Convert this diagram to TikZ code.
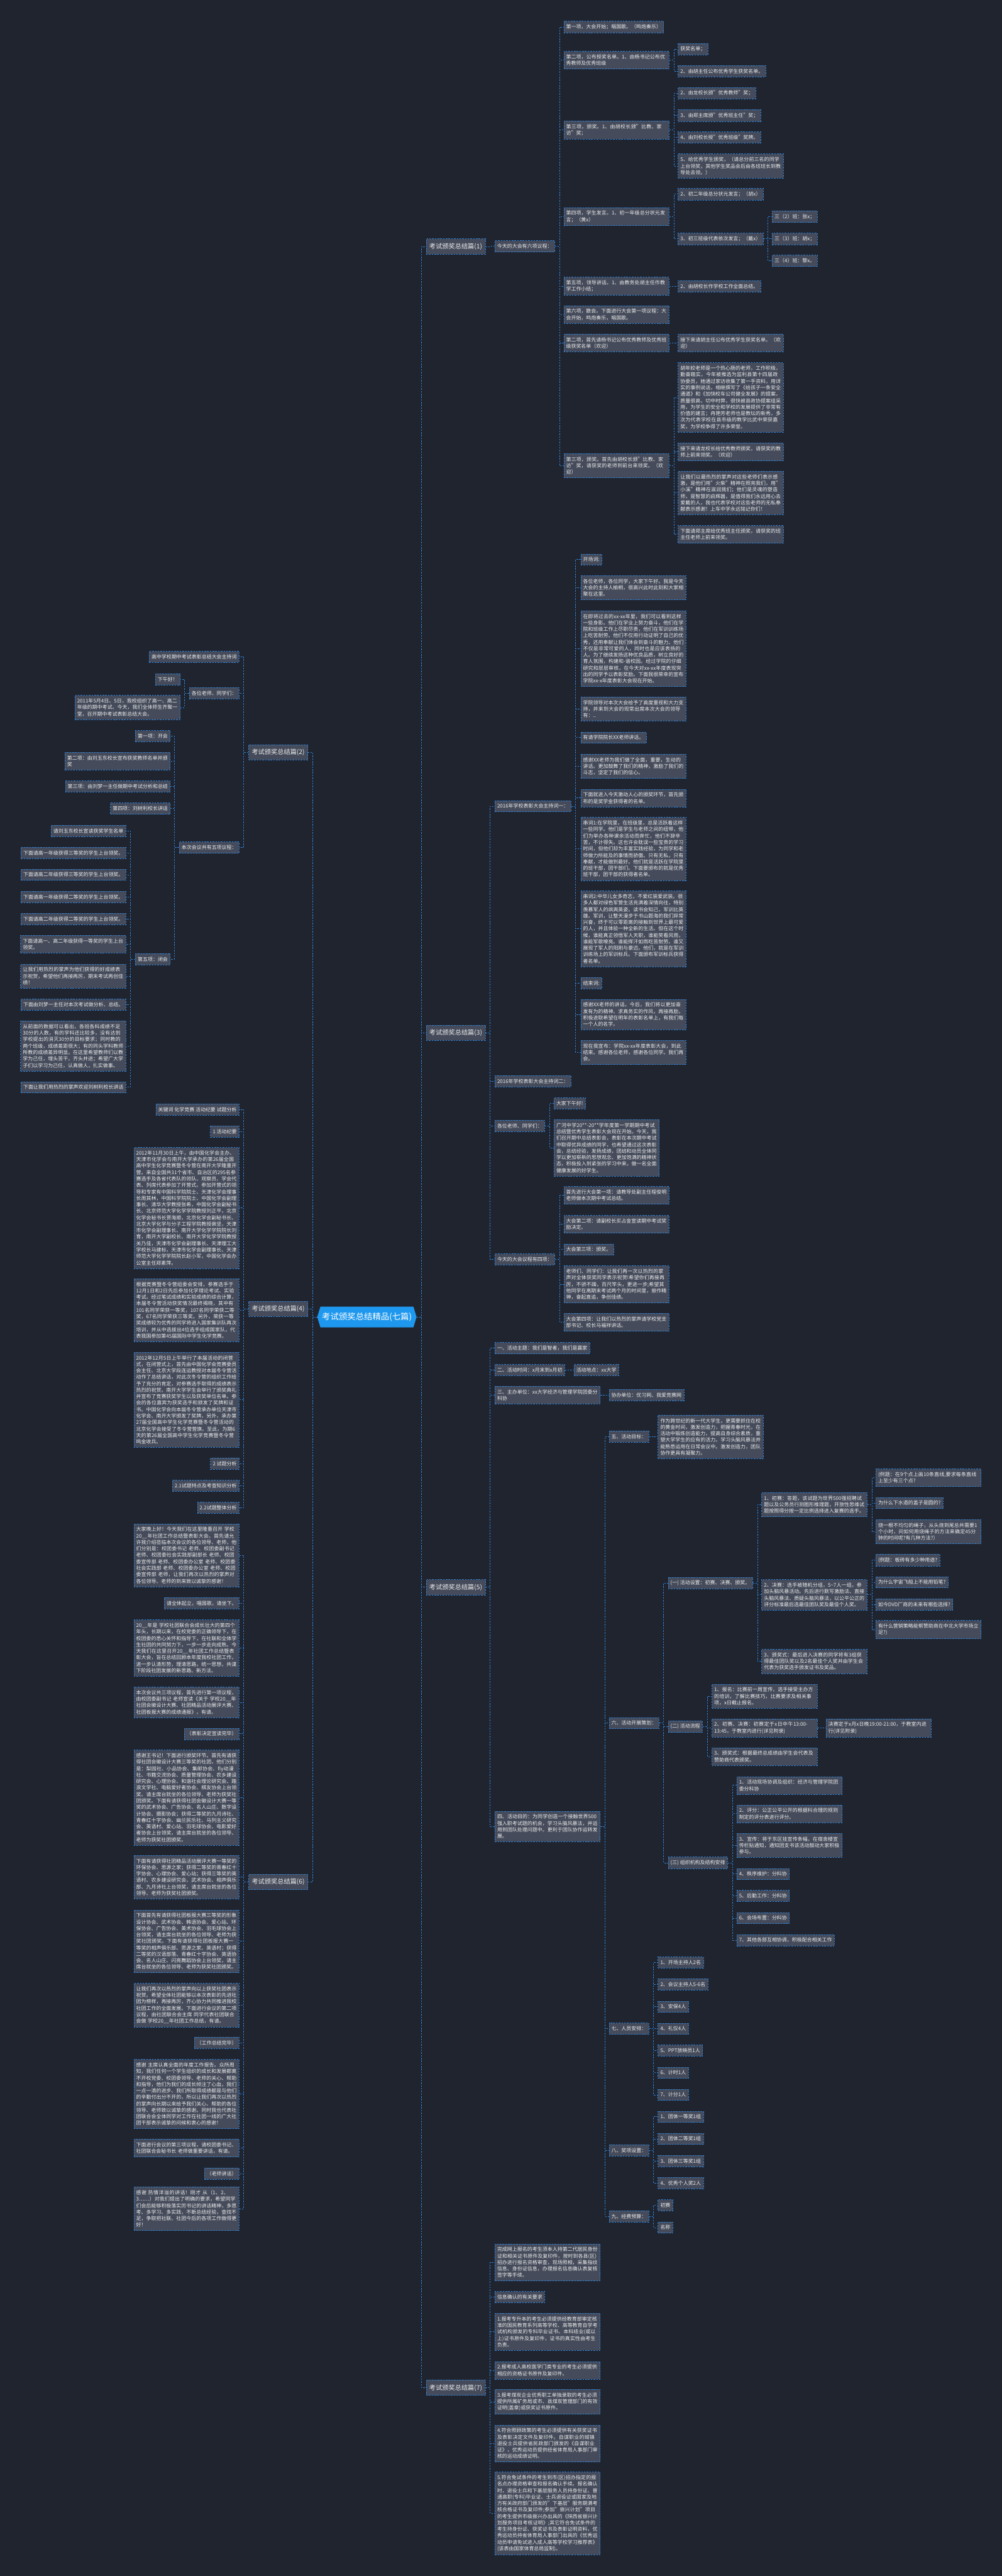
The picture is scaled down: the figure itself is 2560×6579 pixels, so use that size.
\documentclass[tikz,border=0pt]{standalone}
\usepackage{fontspec}
\setmainfont{Noto Sans CJK SC}
\usetikzlibrary{shapes.symbols}
\XeTeXlinebreaklocale "zh"
\XeTeXlinebreakskip=0pt plus 1pt

\definecolor{bgdark}{HTML}{20242F}
\definecolor{boxgray}{HTML}{454B5A}
\definecolor{boxtext}{HTML}{EDEDED}
\definecolor{linkblue}{HTML}{2C82D8}
\definecolor{rootblue}{HTML}{1E98EE}

\tikzset{
  rootnode/.style={shape=signal, signal to=west and east, signal pointer angle=146,
    fill=rootblue, text=white, font=\fontsize{21.5}{24}\selectfont,
    minimum height=53pt, inner xsep=4pt, inner ysep=0pt},
  box/.style={draw=linkblue, dash pattern=on 4pt off 3pt, line width=1pt,
    fill=boxgray, text=boxtext},
  branch/.style={box, font=\fontsize{16.4}{20}\selectfont, inner xsep=8pt,
    inner ysep=11pt, text height=14pt, text depth=3pt},
  leaf/.style={box, font=\fontsize{12.8}{16.5}\selectfont, inner xsep=6pt,
    inner ysep=8.3pt, align=left},
  para/.style={leaf, text width=257pt},
  rleaf/.style={leaf, anchor=west}, rpara/.style={para, anchor=west},
  lleaf/.style={leaf, anchor=east}, lpara/.style={para, anchor=east},
  link/.style={draw=linkblue, dash pattern=on 4pt off 3pt, line width=1.2pt}
}
\newcommand{\linkR}[2]{\draw[link] (#1.east) -- ++(12,0) |- (#2.west);}
\newcommand{\linkL}[2]{\draw[link] (#1.west) -- ++(-12,0) |- (#2.east);}

\begin{document}
\begin{tikzpicture}[x=1pt, y=-1pt]
\fill[bgdark] (0,0) rectangle (2560,6579);
\useasboundingbox (0,0) rectangle (2560,6579);

\node[rootnode] (root) at (937.5,3363.5) {考试颁奖总结精品(七篇)};

% the seven branches
\node[branch, anchor=west] (p1) at (1088.5,629.5) {考试颁奖总结篇(1)};
\node[branch, anchor=east] (p2) at (786.8,1921) {考试颁奖总结篇(2)};
\node[branch, anchor=west] (p3) at (1088.5,2637.5) {考试颁奖总结篇(3)};
\node[branch, anchor=east] (p4) at (786.8,3343) {考试颁奖总结篇(4)};
\node[branch, anchor=west] (p5) at (1088.5,4053.6) {考试颁奖总结篇(5)};
\node[branch, anchor=east] (p6) at (786.8,4806.6) {考试颁奖总结篇(6)};
\node[branch, anchor=west] (p7) at (1088.5,6098) {考试颁奖总结篇(7)};
\foreach \b in {p1,p3,p5,p7} {\linkR{root}{\b}}
\foreach \b in {p2,p4,p6} {\linkL{root}{\b}}

% ---- 篇1
\node[rleaf] (p1a) at (1263.8,629) {今天的大会有六项议程：};
\node[rleaf] (p1a1) at (1440,69) {第一项，大会开始；唱国歌。（鸣炮奏乐）};
\node[rpara] (p1a2) at (1440,153.5) {第二项，公布授奖名单。1、由杨书记公布优秀教师及优秀班级};
\node[rleaf] (p1a2a) at (1732,125.5) {获奖名单；};
\node[rleaf] (p1a2b) at (1732,182) {2、由胡主任公布优秀学生获奖名单。};
\node[rpara] (p1a3) at (1440,332) {第三项，颁奖。1、由胡校长颁"比教、家访"奖；};
\node[rleaf] (p1a3a) at (1732,238) {2、由龙校长颁"优秀教师"奖；};
\node[rleaf] (p1a3b) at (1732,295) {3、由郑主席颁"优秀班主任"奖；};
\node[rleaf] (p1a3c) at (1732,351) {4、由刘校长授"优秀班级"奖牌。};
\node[rpara] (p1a3d) at (1732,424) {5、给优秀学生颁奖，（请总分前三名的同学上台领奖，其他学生奖品会后由各班班长到教导处去领。）};
\node[rpara] (p1a4) at (1440,553) {第四项，学生发言。1、初一年级总分状元发言；（黄x）};
\node[rleaf] (p1a4a) at (1732,496) {2、初二年级总分状元发言；（胡x）};
\node[rleaf] (p1a4b) at (1732,610) {3、初三班级代表依次发言；（戴x）};
\node[rleaf] (p1a4b1) at (1972.6,553) {三（2）班：张x；};
\node[rleaf] (p1a4b2) at (1972.6,610) {三（3）班：胡x；};
\node[rleaf] (p1a4b3) at (1972.6,666) {三（4）班：黎x。};
\node[rpara] (p1a5) at (1440,731) {第五项，领导讲话。1、由教务处胡主任作教学工作小结；};
\node[rleaf] (p1a5a) at (1732,731) {2、由胡校长作学校工作全面总结。};
\node[rpara] (p1a6) at (1440,803) {第六项，散会。下面进行大会第一项议程：大会开始，鸣炮奏乐，唱国歌。};
\node[rpara] (p1a7) at (1440,876) {第二项，首先请杨书记公布优秀教师及优秀班级获奖名单（欢迎）};
\node[rpara] (p1a7a) at (1732,876) {接下来请胡主任公布优秀学生获奖名单。（欢迎）};
\node[rpara] (p1a8) at (1440,1189.5) {第三项，颁奖。首先由胡校长颁"比教、家访"奖，请获奖的老师到前台来领奖。（欢迎）};
\node[rpara] (p1a8a) at (1732,1015) {胡年姣老师是一个热心肠的老师，工作积极，勤奋踏实，今年被推选为监利县第十四届政协委员，她通过家访收集了第一手资料，用详实的事例说话，相继撰写了《给孩子一条安全通道》和《加快校车公司健全发展》的提案，质量很高，切中时弊，很快被县政协提案组采用，为学生的安全和学校的发展提供了非常有价值的建言；冉艳芳老师也是教坛的新秀，多次为代表学校在县市级的教学比武中荣获嘉奖，为学校争得了许多荣誉。};
\node[rpara] (p1a8b) at (1732,1154) {接下来请龙校长给优秀教师颁奖，请获奖的教师上前来领奖。（欢迎）};
\node[rpara] (p1a8c) at (1732,1259) {让我们以最热烈的掌声对这些老师们表示感激，是他们用"火柴"精神在照亮我们，用"小溪"精神在滋润我们；他们是灵魂的塑造师，是智慧的启辉器，是值得我们永远用心去爱戴的人，我也代表学校对这些老师的无私奉献表示感谢！上车中学永远铭记你们！};
\node[rpara] (p1a8d) at (1732,1364.5) {下面请郑主席给优秀班主任颁奖，请获奖的班主任老师上前来领奖。};
\linkR{p1}{p1a}
\foreach \c in {p1a1,p1a2,p1a3,p1a4,p1a5,p1a6,p1a7,p1a8} {\linkR{p1a}{\c}}
\foreach \c in {p1a2a,p1a2b} {\linkR{p1a2}{\c}}
\foreach \c in {p1a3a,p1a3b,p1a3c,p1a3d} {\linkR{p1a3}{\c}}
\foreach \c in {p1a4a,p1a4b} {\linkR{p1a4}{\c}}
\foreach \c in {p1a4b1,p1a4b2,p1a4b3} {\linkR{p1a4b}{\c}}
\linkR{p1a5}{p1a5a}
\linkR{p1a7}{p1a7a}
\foreach \c in {p1a8a,p1a8b,p1a8c,p1a8d} {\linkR{p1a8}{\c}}

% ---- 篇3
\node[rleaf] (p3a) at (1264,2059) {2016年学校表彰大会主持词一：};
\node[rleaf] (p3a1) at (1483.4,1429) {开场词:};
\node[rpara] (p3a2) at (1483.4,1501) {各位老师，各位同学，大家下午好。我是今天大会的主持人榆桐，很高兴此时此刻和大家相聚在这里。};
\node[rpara] (p3a3) at (1483.4,1656.5) {在即将过去的xx-xx年里，我们可以看到这样一些身影。他们在学业上努力奋斗，他们在学院和班级工作上尽职尽责，他们在军训训练场上吃苦耐劳。他们不仅用行动证明了自己的优秀，还用奉献让我们体会到奋斗的魅力。他们不仅是非常可爱的人，同时也是应该表扬的人。为了继续发扬这种优良品质，树立良好的育人氛围，构建和-谐校园。经过学院的仔细研究和层层审核，在今天对xx-xx年度表现突出的同学予以表彰奖励。下面我很荣幸的宣布学院xx-x年度表彰大会现在开始。};
\node[rpara] (p3a4) at (1483.4,1810.7) {学院领导对本次大会给予了高度重视和大力支持，并来到大会的现常出席本次大会的领导有：..};
\node[rleaf] (p3a5) at (1483.4,1883.6) {有请学院院长XX老师讲话。};
\node[rpara] (p3a6) at (1483.4,1957) {感谢XX老师为我们做了全面，重要，生动的讲话。更加鼓舞了我们的精神，激励了我们的斗志，坚定了我们的信心。};
\node[rpara] (p3a7) at (1483.4,2038) {下面就进入今天激动人心的颁奖环节，首先颁布的是奖学金获得者的名单。};
\node[rpara] (p3a8) at (1483.4,2168) {串词1:在学院里，在班级里，总是活跃着这样一些同学。他们是学生与老师之间的纽带，他们为举办各种课余活动而奔忙，他们不辞辛苦，不计得失。这也许会耽误一些宝贵的学习时间，但他们却为丰富实践经验，为同学和老师做力所能及的事情而骄傲。只有无私，只有奉献，才能做到最好。他们就是活跃在学院里的班干部，团干部们。下面要颁布的就是优秀班干部，团干部的获得者名单。};
\node[rpara] (p3a9) at (1483.4,2372) {串词2:中华儿女多奇志，不爱红装爱武装。很多人都对绿色军营生活充满着深情向往，特别羡慕军人的飒爽英姿。读书会知己，军训比英雄。军训，让整天漫步于书山题海的我们异常兴奋，终于可以零距离的接触到世界上最可爱的人，并且体验一种全新的生活。但在这个时候，谁能真正领悟军人天职，谁能笑看风雨，谁能军歌嘹亮。谁能挥汗如雨吃苦耐劳。谁又展现了军人的阳刚与豪迈。他们，就是在军训训练场上的军训标兵。下面颁布军训标兵获得者名单。};
\node[rleaf] (p3a10) at (1483.4,2510.5) {结束词:};
\node[rpara] (p3a11) at (1483.4,2591) {感谢XX老师的讲话。今后，我们将以更加奋发有为的精神、求真务实的作风，再接再励，积极进取希望在明年的表彰名单上，有我们每一个人的名字。};
\node[rpara] (p3a12) at (1483.4,2688) {现在我宣布：学院xx-xx年度表彰大会，到此结束。感谢各位老师，感谢各位同学。我们再会。};
\node[rleaf] (p3b) at (1264,2761.5) {2016年学校表彰大会主持词二：};
\node[rleaf] (p3c) at (1264,2875) {各位老师、同学们：};
\node[rleaf] (p3c1) at (1415,2818) {大家下午好!};
\node[rpara] (p3c2) at (1415,2931.7) {广河中学20**-20**学年度第一学期期中考试总结暨优秀学生表彰大会现在开始。今天，我们召开期中总结表彰会，表彰在本次期中考试中取得优异成绩的同学，也希望通过这次表彰会，总结经验，发扬成绩，团结和动员全体同学以更加崭新的思想观念、更加饱满的精神状态，积极投入到紧张的学习中来，做一名全面健康发展的好学生。};
\node[rleaf] (p3d) at (1264,3216.5) {今天的大会议程有四项：};
\node[rpara] (p3d1) at (1440,3053) {首先进行大会第一项：请教导处副主任程俊明老师做本次期中考试总结。};
\node[rpara] (p3d2) at (1440,3126.7) {大会第二项：请副校长买占金宣读期中考试奖励决定。};
\node[rleaf] (p3d3) at (1440,3191) {大会第三项：颁奖。};
\node[rpara] (p3d4) at (1440,3280) {老师们、同学们：让我们再一次以热烈的掌声对全体获奖同学表示祝贺!希望你们再接再厉，不骄不躁，百尺竿头，更进一步;希望其他同学在离期末考试两个月的时间里，振作精神，奋起直追，争创佳绩。};
\node[rpara] (p3d5) at (1440,3377) {大会第四项：让我们以热烈的掌声请学校党支部书记、校长马福祥讲话。};
\foreach \c in {p3a,p3b,p3c,p3d} {\linkR{p3}{\c}}
\foreach \c in {p3a1,p3a2,p3a3,p3a4,p3a5,p3a6,p3a7,p3a8,p3a9,p3a10,p3a11,p3a12} {\linkR{p3a}{\c}}
\foreach \c in {p3c1,p3c2} {\linkR{p3c}{\c}}
\foreach \c in {p3d1,p3d2,p3d3,p3d4,p3d5} {\linkR{p3d}{\c}}

% ---- 篇5
\node[rleaf] (p5a) at (1264,3443) {一、活动主题：我们是智者，我们是赢家};
\node[rleaf] (p5b) at (1264,3499) {二、活动时间：x月末到x月初};
\node[rleaf] (p5b1) at (1466,3499) {活动地点：xx大学};
\node[rpara] (p5c) at (1264,3563) {三、主办单位：xx大学经济与管理学院团委分科协};
\node[rleaf] (p5c1) at (1555.6,3563) {协办单位：优习网、我爱竞赛网};
\node[rpara] (p5d) at (1264,4664.6) {四、活动目的：为同学创造一个接触世界500强入职考试题的机会，学习头脑风暴法，并运用到团队处理问题中。更利于团队协作运转发展。};
\node[rleaf] (p5d1) at (1555.6,3668.7) {五、活动目标：};
\node[rpara] (p5d1a) at (1680.8,3669.7) {作为跨世纪的新一代大学生，更需要抓住在校的黄金时间，激发创造力，把握青春时光，在活动中锻炼创造能力，提高自身综合素质，重塑大学学生的应有的活力。学习头脑风暴法并能熟悉运用在日常会议中。激发创造力，团队协作更具有凝聚力。};
\node[rleaf] (p5d2) at (1555.6,4400.5) {六、活动开展策划：};
\node[rleaf] (p5e1) at (1706.8,4043) {(一) 活动设置：初赛、决赛、颁奖。};
\node[rpara] (p5e1a) at (1945.6,3843) {1、初赛：答题，该试题为世界500强招聘试题以及公务员行测图形推理题，开放性思维试题按照得分按一定比例选择进入复赛的选手。};
\node[rpara] (q1) at (2237.4,3774) {(例题：在9个点上画10条直线,要求每条直线上至少有三个点?};
\node[rleaf] (q2) at (2237.4,3838.7) {为什么下水道的盖子是圆的?};
\node[rpara] (q3) at (2237.4,3912) {烧一根不均匀的绳子，从头烧到尾总共需要1个小时，问如何用烧绳子的方法来确定45分钟的时间呢?有几种方法?）};
\node[rpara] (p5e1b) at (1945.6,4073) {2、决赛：选手被随机分组，5\textasciitilde 7人一组，参加头脑风暴活动。先后进行默写激励法、直接头脑风暴法、质疑头脑风暴法，以公平公正的评分标准最后选最佳团队奖及最佳个人奖。};
\node[rleaf] (q4) at (2237.4,3984.6) {(例题：板砖有多少种用途?};
\node[rleaf] (q5) at (2237.4,4041) {为什么宇宙飞船上不能用铅笔?};
\node[rleaf] (q6) at (2237.4,4097.7) {如今DVD厂商的未来有哪些选择?};
\node[rpara] (q7) at (2237.4,4162) {有什么营销策略能帮赞助商在中北大学市场立足?)};
\node[rpara] (p5e1c) at (1945.6,4243) {3、颁奖式：最后进入决赛的同学将有3组获得最佳团队奖以及2名最佳个人奖并由学生会代表为获奖选手颁发证书及奖品。};
\node[rleaf] (p5e2) at (1706.8,4409.5) {(二) 活动流程};
\node[rpara] (p5e2a) at (1818.5,4332) {1、报名：比赛前一周宣传，选手接受主办方的培训，了解比赛技巧，比赛要求及相关事项，x日截止报名。};
\node[rpara] (p5e2b) at (1818.5,4413) {2、初赛、决赛：初赛定于x日中午13:00-13:45，于教室内进行(详见附录)};
\node[rpara] (p5e2b1) at (2110,4413) {决赛定于x月x日晚19:00-21:00，于教室内进行(详见附录)};
\node[rpara] (p5e2c) at (1818.5,4486) {3、颁奖式：根据最终总成绩由学生会代表及赞助商代表颁奖。};
\node[rleaf] (p5e3) at (1706.8,4757.5) {(三) 组织机构及结构安排};
\node[rpara] (r1) at (1882,4559.7) {1、活动现场协调及组织：经济与管理学院团委分科协};
\node[rpara] (r2) at (1882,4632) {2、评分：公正公平公开的根据科合理的规则制定的评分表进行评分。};
\node[rpara] (r3) at (1882,4713) {3、宣传：将于东区挂宣传条幅，在宿舍楼宣传栏贴通知，通知团支书该活动鼓动大家积极参与。};
\node[rleaf] (r4) at (1882,4786) {4、秩序维护：分科协};
\node[rleaf] (r5) at (1882,4842) {5、后勤工作：分科协};
\node[rleaf] (r6) at (1882,4898.7) {6、会场布置：分科协};
\node[rleaf] (r7) at (1882,4955) {7、其他各部互相协调，积极配合相关工作};
\node[rleaf] (p5d3) at (1555.6,5181) {七、人员安排：};
\node[rleaf] (s1) at (1680.8,5012) {1、开场主持人2名};
\node[rleaf] (s2) at (1680.8,5068) {2、会议主持人5-6名};
\node[rleaf] (s3) at (1680.8,5125) {3、安保4人};
\node[rleaf] (s4) at (1680.8,5181) {4、礼仪4人};
\node[rleaf] (s5) at (1680.8,5237) {5、PPT放映员1人};
\node[rleaf] (s6) at (1680.8,5293.5) {6、计时1人};
\node[rleaf] (s7) at (1680.8,5350) {7、计分1人};
\node[rleaf] (p5d4) at (1555.6,5491.6) {八、奖项设置：};
\node[rleaf] (t1) at (1680.8,5406) {1、团体一等奖1组};
\node[rleaf] (t2) at (1680.8,5462.5) {2、团体二等奖1组};
\node[rleaf] (t3) at (1680.8,5519) {3、团体三等奖1组};
\node[rleaf] (t4) at (1680.8,5575) {4、优秀个人奖2人};
\node[rleaf] (p5d5) at (1555.6,5660.5) {九、经费预算：};
\node[rleaf] (u1) at (1680.8,5632) {初赛};
\node[rleaf] (u2) at (1680.8,5689) {名称};
\foreach \c in {p5a,p5b,p5c,p5d} {\linkR{p5}{\c}}
\linkR{p5b}{p5b1}
\linkR{p5c}{p5c1}
\foreach \c in {p5d1,p5d2,p5d3,p5d4,p5d5} {\linkR{p5d}{\c}}
\linkR{p5d1}{p5d1a}
\foreach \c in {p5e1,p5e2,p5e3} {\linkR{p5d2}{\c}}
\foreach \c in {p5e1a,p5e1b,p5e1c} {\linkR{p5e1}{\c}}
\foreach \c in {q1,q2,q3} {\linkR{p5e1a}{\c}}
\foreach \c in {q4,q5,q6,q7} {\linkR{p5e1b}{\c}}
\foreach \c in {p5e2a,p5e2b,p5e2c} {\linkR{p5e2}{\c}}
\linkR{p5e2b}{p5e2b1}
\foreach \c in {r1,r2,r3,r4,r5,r6,r7} {\linkR{p5e3}{\c}}
\foreach \c in {s1,s2,s3,s4,s5,s6,s7} {\linkR{p5d3}{\c}}
\foreach \c in {t1,t2,t3,t4} {\linkR{p5d4}{\c}}
\foreach \c in {u1,u2} {\linkR{p5d5}{\c}}

% ---- 篇7
\node[rpara] (v1) at (1264,5778) {完成网上报名的考生须本人持第二代居民身份证和相关证书原件及复印件，按时到各县(区)招办进行报名资格审查，现场照相，采集指纹信息、身份证信息，办理报名信息确认表复核签字等手续。};
\node[rleaf] (v2) at (1264,5866.7) {信息确认的有关要求};
\node[rpara] (v3) at (1264,5955.5) {1.报考专升本的考生必须提供经教育部审定核准的国民教育系列高等学校、高等教育自学考试机构颁发的专科毕业证书、本科结业(或以上)证书原件及复印件，证书的真实性由考生负责。};
\node[rpara] (v4) at (1264,6053.5) {2.报考成人高校医学门类专业的考生必须提供相应的资格证书原件及复印件。};
\node[rpara] (v5) at (1264,6134) {3.报考煤炭企业优秀职工单独录取的考生必须提供所属矿务局或市、县煤炭管理部门的有效证明(盖章)或获奖证书原件。};
\node[rpara] (v6) at (1264,6240.5) {4.符合照顾政策的考生必须提供有关获奖证书及表彰决定文件及复印件。自谋职业的城镇退役士兵提供省民政部门颁发的《自谋职业证》，优秀运动员提供经省体育局人事部门审核的运动成绩证明。};
\node[rpara] (v7) at (1264,6419) {5.符合免试条件的考生到市(区)招办指定的报名点办理资格审查和报名确认手续。报名确认时，退役士兵和下基层服务人员持身份证、普通高职(专科)毕业证、士兵退役证或国家及地方有关政府部门颁发的"下基层"服务期满考核合格证书及复印件;参加"振兴计划"项目的考生提供市级振兴办出具的《陕西省振兴计划服务项目考核证明》;其它符合免试条件的考生持身份证、获奖证书及表彰证明资料，优秀运动员持省体育局人事部门出具的《优秀运动员申请免试进入成人高等学校学习推荐表》(该表由国家体育总局监制)。};
\foreach \c in {v1,v2,v3,v4,v5,v6,v7} {\linkR{p7}{\c}}

% ---- 篇2 (left)
\node[lleaf] (w1) at (611.4,1677.6) {高中学校期中考试表彰总结大会主持词};
\node[lleaf] (w2) at (611.4,1770.4) {各位老师、同学们：};
\node[lleaf] (w2a) at (460.7,1734.7) {下午好！};
\node[lpara] (w2b) at (460.7,1807) {2011年5月4日、5日，我校组织了高一、高二年级的期中考试。今天，我们全体师生齐聚一堂，召开期中考试表彰总结大会。};
\node[lleaf] (w3) at (611.4,2164.6) {本次会议共有五项议程：};
\node[lleaf] (w3a) at (435.3,1880) {第一项：开会};
\node[lpara] (w3b) at (435.3,1944) {第二项：由刘玉东校长宣布获奖教师名单并颁奖};
\node[lleaf] (w3c) at (435.3,2008.7) {第三项：由刘梦一主任做期中考试分析和总结};
\node[lleaf] (w3d) at (435.3,2065) {第四项：刘树利校长讲话};
\node[lleaf] (w3e) at (435.3,2449.4) {第五项：闭会};
\node[lleaf] (x1) at (322,2122) {请刘玉东校长宣读获奖学生名单};
\node[lleaf] (x2) at (322,2178) {下面请高一年级获得三等奖的学生上台领奖。};
\node[lleaf] (x3) at (322,2234) {下面请高二年级获得三等奖的学生上台领奖。};
\node[lleaf] (x4) at (322,2290.6) {下面请高一年级获得二等奖的学生上台领奖。};
\node[lleaf] (x5) at (322,2347) {下面请高二年级获得二等奖的学生上台领奖。};
\node[lpara] (x6) at (322,2411.5) {下面请高一、高二年级获得一等奖的学生上台领奖。};
\node[lpara] (x7) at (322,2493) {让我们用热烈的掌声为他们获得的好成绩表示祝贺，希望他们再接再厉，期末考试再创佳绩！};
\node[lleaf] (x8) at (322,2566) {下面由刘梦一主任对本次考试做分析、总结。};
\node[lpara] (x9) at (322,2671.5) {从前面的数据可以看出，各班各科成绩不足30分的人数，有的学科还比较多，没有达到学校提出的消灭30分的目标要求；同时教的两个班级，成绩差距很大；有的同头学科教师所教的成绩差异明显。在这里希望教师们以教学为己任，埋头苦干，齐头并进；希望广大学子们以学习为己任，认真做人，扎实做事。};
\node[lleaf] (x10) at (322,2776.6) {下面让我们用热烈的掌声欢迎刘树利校长讲话};
\foreach \c in {w1,w2,w3} {\linkL{p2}{\c}}
\foreach \c in {w2a,w2b} {\linkL{w2}{\c}}
\foreach \c in {w3a,w3b,w3c,w3d,w3e} {\linkL{w3}{\c}}
\foreach \c in {x1,x2,x3,x4,x5,x6,x7,x8,x9,x10} {\linkL{w3e}{\c}}

% ---- 篇4 (left)
\node[lleaf] (y1) at (611.4,2833.6) {关键词 化学竞赛 活动纪要 试题分析};
\node[lleaf] (y2) at (611.4,2889.7) {1 活动纪要};
\node[lpara] (y3) at (611.4,3085) {2012年11月30日上午，由中国化学会主办、天津市化学会与南开大学承办的第26届全国高中学生化学竞赛暨冬令营在南开大学隆重开营。来自全国共31个省市、自治区的295名参赛选手及各省代表队的领队、观察员、学会代表、列席代表参加了开营式。参加开营式的领导和专家有中国科学院院士、天津化学会理事长周其林，中国科学院院士、中国化学会副理事长、清华大学教授张希，中国化学会副秘书长、北京师范大学化学学院教授刘正平，北京化学会秘书长贾海顺，北京化学会副秘书长、北京大学化学与分子工程学院教授裴坚，天津市化学会副理事长、南开大学化学学院院长刘育，南开大学副校长、南开大学化学学院教授关乃佳，天津市化学会副理事长、天津理工大学校长马建标，天津市化学会副理事长、天津师范大学化学学院院长赵小军，中国化学会办公室主任郑素萍。};
\node[lpara] (y4) at (611.4,3346) {根据竞赛暨冬令营组委会安排，参赛选手于12月1日和2日先后参加化学理论考试、实验考试。经过笔试成绩和实验成绩的综合计算，本届冬令营活动获奖情况最终揭晓，其中有101名同学荣获一等奖，107名同学荣获二等奖，67名同学荣获三等奖。另外，荣获一等奖成绩较为优秀的同学将进入国家集训队再次培训，并从中选拔出4位选手组成国家队，代表我国参加第45届国际中学生化学竞赛。};
\node[lpara] (y5) at (611.4,3575) {2012年12月5日上午举行了本届活动的闭营式，在闭营式上，首先由中国化学会竞赛委员会主任、北京大学段连运教授对本届冬令营活动作了总结讲话，对此次冬令营的组织工作给予了充分的肯定，对参赛选手取得的成绩表示热烈的祝贺。南开大学学生会举行了颁奖典礼并宣布了竞赛获奖学生以及获奖单位名单。参会的各位嘉宾为获奖选手和颁发了奖牌和证书。中国化学会向本届冬令营承办单位天津市化学会、南开大学颁发了奖牌，另外，承办第27届全国高中学生化学竞赛暨冬令营活动的北京化学会接受了冬令营营旗。至此，为期6天的第26届全国高中学生化学竞赛暨冬令营鸣金收兵。};
\node[lleaf] (y6) at (611.4,3738) {2 试题分析};
\node[lleaf] (y7) at (611.4,3794.6) {2.1试题特点及考查知识分析};
\node[lleaf] (y8) at (611.4,3851) {2.2试题整体分析};
\foreach \c in {y1,y2,y3,y4,y5,y6,y7,y8} {\linkL{p4}{\c}}

% ---- 篇6 (left)
\node[lpara] (z1) at (611.4,3972) {大家晚上好！今天我们在这里隆重召开 学校20\_\_年社团工作总结暨表彰大会。首先请允许我介绍莅临本次会议的各位领导、老师，他们分别是：校团委书记 老师、校团委副书记 老师、校团委社会实践部副部长 老师、校团委宣传部 老师、校团委办公室 老师、校团委社会实践部 老师、校团委办公室 老师、校团委宣传部 老师，让我们再次以热烈的掌声对各位领导、老师的到来致以诚挚的感谢！};
\node[lleaf] (z2) at (611.4,4094.7) {请全体起立，唱国歌，请坐下。};
\node[lpara] (z3) at (611.4,4209) {20\_\_年是 学校社团联合会成长壮大的第四个年头，长期以来，在校党委的正确领导下，在校团委的悉心关怀和指导下，在社联和全体学生社团的共同努力下，一步一步走向成熟。今天我们在这里召开20\_\_年社团工作总结暨表彰大会，旨在总结回顾本年度我校社团工作，进一步认清形势，理清思路，统一思想，共谋下阶段社团发展的新思路、新方法。};
\node[lpara] (z4) at (611.4,4347.8) {本次会议共三项议程，首先进行第一项议程，由校团委副书记 老师宣读《关于 学校20\_\_年社团会徽设计大赛、社团精品活动展评大赛、社团板报大赛的成绩通报》，有请。};
\node[lleaf] (z5) at (611.4,4428) {（表彰决定宣读完毕）};
\node[lpara] (z6) at (611.4,4591) {感谢王书记！下面进行颁奖环节。首先有请获得社团会徽设计大赛三等奖的社团，他们分别是：梨园社、小品协会、集邮协会、fly动漫社、书籍交流协会、质量管理协会、农乡建设研究会、心理协会、和谐社会理论研究会、踏浪文学社、电脑爱好者协会、棋友协会上台领奖。请主席台就坐的各位领导、老师为获奖社团颁奖。下面有请获得社团会徽设计大赛一等奖的武术协会、广告协会、名人山庄、数字设计协会、摄影协会；获得二等奖的九月诗社、青春红十字协会、幽兰民乐社、马列主义研究会、英语村、爱心站、羽毛球协会、电影爱好者协会上台领奖，请主席台就坐的各位领导、老师为获奖社团颁奖。};
\node[lpara] (z7) at (611.4,4794) {下面有请获得社团精品活动展评大赛一等奖的环保协会、思源之家；获得二等奖的青春红十字协会、心理协会、爱心站；获得三等奖的英语村、农乡建设研究会、武术协会、相声俱乐部、九月诗社上台领奖，请主席台就坐的各位领导、老师为获奖社团颁奖。};
\node[lpara] (z8) at (611.4,4958) {下面首先有请获得社团板报大赛三等奖的形象设计协会、武术协会、韩语协会、爱心站、环保协会、广告协会、美术协会、羽毛球协会上台领奖，请主席台就坐的各位领导、老师为获奖社团颁奖。下面有请获得社团板报大赛一等奖的相声俱乐部、思源之家、英语村；获得二等奖的汉语部落、青春红十字协会、英语协会、名人山庄、闪亮舞蹈协会上台领奖，请主席台就坐的各位领导、老师为获奖社团颁奖。};
\node[lpara] (z9) at (611.4,5121) {让我们再次以热烈的掌声向以上获奖社团表示祝贺。希望全体社团能够以本次表彰的先进社团为榜样，再接再厉，齐心协力共同推进我校社团工作的全面发展。下面进行会议的第二项议程，由社团联合会主席 同学代表社团联合会做 学校20\_\_年社团工作总结，有请。};
\node[lleaf] (z10) at (611.4,5217.4) {（工作总结完毕）};
\node[lpara] (z11) at (611.4,5348) {感谢 主席认真全面的年度工作报告。众所周知，我们任何一个学生组织的成长和发展都离不开校党委、校团委领导、老师的关心、帮助和指导，他们为我们的成长倾注了心血，我们一点一滴的进步、我们所取得成绩都是与他们的辛勤付出分不开的，所以让我们再次以热烈的掌声向长期以来给予我们关心、帮助的各位领导、老师致以诚挚的感谢。同时我也代表社团联合会全体同学对工作在社团一线的广大社团干部表示诚挚的问候和衷心的感谢！};
\node[lpara] (z12) at (611.4,5485.8) {下面进行会议的第三项议程，请校团委书记、社团联合会秘书长 老师做重要讲话，有请。};
\node[lleaf] (z13) at (611.4,5551.7) {（老师讲话）};
\node[lpara] (z14) at (611.4,5641) {感谢 热情洋溢的讲话！刚才 从（1、2、3……）对我们提出了明确的要求，希望同学们会后能够积极落实厉书记的讲话精神，多思考、多学习、多实践，不断总结经验，查找不足，争取把社联、社团今后的各项工作做得更好！};
\foreach \c in {z1,z2,z3,z4,z5,z6,z7,z8,z9,z10,z11,z12,z13,z14} {\linkL{p6}{\c}}
\end{tikzpicture}
\end{document}
